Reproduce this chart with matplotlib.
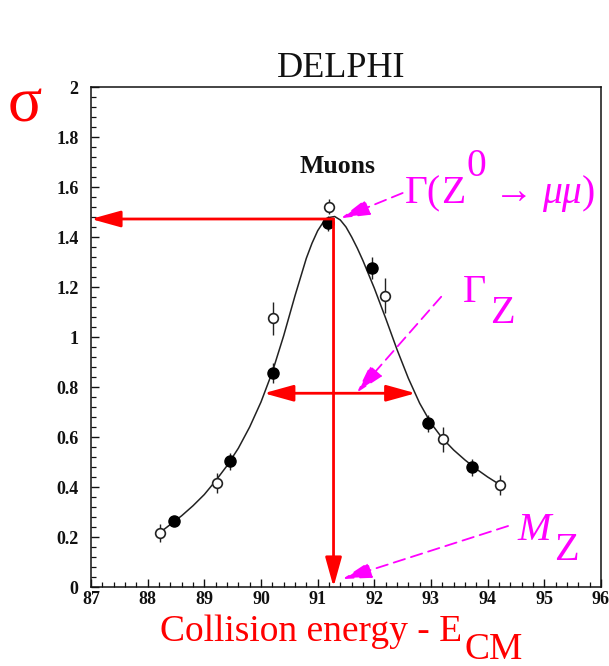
import matplotlib
matplotlib.use("Agg")
import matplotlib.pyplot as plt
from matplotlib.ticker import MultipleLocator

# ---- data -------------------------------------------------------------
# filled circles
filled_x = [88.47, 89.46, 90.21, 91.18, 91.95, 92.95, 93.72]
filled_y = [0.265, 0.503, 0.857, 1.455, 1.277, 0.655, 0.479]
filled_err = [0.02, 0.035, 0.04, 0.03, 0.045, 0.035, 0.035]

# open circles
open_x = [88.22, 89.22, 90.21, 91.20, 92.19, 93.21, 94.21]
open_y = [0.217, 0.417, 1.075, 1.521, 1.165, 0.591, 0.408]
open_err = [0.035, 0.04, 0.065, 0.03, 0.07, 0.05, 0.04]

# fitted line shape
fit_x = [88.2, 88.4, 88.6, 88.8, 89.0, 89.2, 89.4, 89.6, 89.8, 90.0, 90.2,
         90.4, 90.6, 90.8, 90.9, 91.0, 91.1, 91.2, 91.3, 91.4, 91.5, 91.6,
         91.7, 91.8, 92.0, 92.2, 92.4, 92.6, 92.8, 93.0, 93.2, 93.4, 93.6,
         93.8, 94.0, 94.21]
fit_y = [0.215, 0.250, 0.285, 0.325, 0.370, 0.425, 0.485, 0.555, 0.640, 0.740,
         0.860, 1.005, 1.165, 1.315, 1.375, 1.425, 1.460, 1.478, 1.482, 1.468,
         1.440, 1.400, 1.355, 1.305, 1.195, 1.075, 0.950, 0.835, 0.735, 0.655,
         0.595, 0.548, 0.508, 0.472, 0.440, 0.410]

# resonance markers
m_z = 91.28
peak_sigma = 1.472
half_y = 0.775
half_lo, half_hi = 90.05, 92.73

x_ticks = [87, 88, 89, 90, 91, 92, 93, 94, 95, 96]
y_ticks = [0, 0.2, 0.4, 0.6, 0.8, 1.0, 1.2, 1.4, 1.6, 1.8, 2.0]
y_tick_labels = ["0", "0.2", "0.4", "0.6", "0.8", "1", "1.2", "1.4", "1.6", "1.8", "2"]

# ---- figure -----------------------------------------------------------
W, H = 609, 666
fig = plt.figure(figsize=(W / 100, H / 100), dpi=100)
fig.patch.set_facecolor("white")
SERIF = ["Liberation Serif", "DejaVu Serif"]
RED = "#ff0000"
MAG = "#ff00ff"

ax = fig.add_axes([91 / W, 1 - 587 / H, 510 / W, 500 / H])
ax.set_xlim(87, 96)
ax.set_ylim(0, 2)
for sp in ax.spines.values():
    sp.set_linewidth(1.1)
    sp.set_color("#111111")

ax.set_xticks(x_ticks)
ax.set_xticklabels([str(v) for v in x_ticks])
ax.set_yticks(y_ticks)
ax.set_yticklabels(y_tick_labels)
ax.xaxis.set_minor_locator(MultipleLocator(0.2))
ax.yaxis.set_minor_locator(MultipleLocator(0.04))
ax.tick_params(which="both", direction="in", top=False, right=False, color="#111111")
ax.tick_params(which="major", length=6, width=1.0)
ax.tick_params(which="minor", length=3.5, width=0.9)
ax.tick_params(axis="x", which="major", pad=3)
ax.tick_params(axis="y", which="major", pad=9)
for lab in ax.get_xticklabels() + ax.get_yticklabels():
    lab.set_fontfamily(SERIF)
    lab.set_fontsize(13)
    lab.set_fontweight("bold")
    lab.set_color("#111111")

# fit curve
ax.plot(fit_x, fit_y, color="#222222", lw=1.1, zorder=3)

# measurements
ax.errorbar(filled_x, filled_y, yerr=filled_err, fmt="o", ms=8, mfc="black",
            mec="black", ecolor="#222222", elinewidth=1.0, capsize=0, zorder=4)
ax.errorbar(open_x, open_y, yerr=open_err, fmt="o", ms=7, mfc="white",
            mec="#222222", mew=1.2, ecolor="#222222", elinewidth=1.0, capsize=0,
            zorder=4)

# red guide arrows
red_head = "-|>,head_length=1.8,head_width=0.5"
ax.annotate("", xy=(87.0, peak_sigma), xytext=(m_z, peak_sigma),
            arrowprops=dict(arrowstyle=red_head, color=RED, lw=2,
                            shrinkA=0, shrinkB=0), annotation_clip=False, zorder=6)
ax.annotate("", xy=(m_z, 0.0), xytext=(m_z, peak_sigma),
            arrowprops=dict(arrowstyle=red_head, color=RED, lw=2,
                            shrinkA=0, shrinkB=0), annotation_clip=False, zorder=6)
ax.annotate("", xy=(half_hi, half_y), xytext=(half_lo, half_y),
            arrowprops=dict(arrowstyle="<|-|>,head_length=1.8,head_width=0.5",
                            color=RED, lw=2, shrinkA=0, shrinkB=0), zorder=6)

# magenta dashed pointers
mag_head = "-|>,head_length=1.8,head_width=0.5"
pointers = [((92.50, 1.576), (91.41, 1.475)),
            ((93.18, 1.161), (91.69, 0.777)),
            ((94.36, 0.244), (91.44, 0.032))]
for tail, tip in pointers:
    ax.annotate("", xy=tip, xytext=tail,
                arrowprops=dict(arrowstyle=mag_head, color=MAG, lw=1.3,
                                linestyle=(0, (6.5, 3.5)), shrinkA=0, shrinkB=0),
                annotation_clip=False, zorder=7)

# ---- text -------------------------------------------------------------
renderer = fig.canvas.get_renderer()


def text_run(x_px, base_px, pieces, color, size):
    """Lay out text pieces left to right; each piece may be shifted vertically."""
    x = x_px
    for s, dy, style, gap in pieces:
        x += gap
        t = fig.text(x / W, 1 - (base_px + dy) / H, s, ha="left", va="baseline",
                     color=color, fontsize=size, family=SERIF, style=style)
        x += t.get_window_extent(renderer).width


fig.text(341 / W, 1 - 77 / H, "DELPHI", ha="center", va="baseline",
         fontsize=26, family=SERIF, color="#111111")
fig.text(300 / W, 1 - 173 / H, "Muons", ha="left", va="baseline",
         fontsize=18.5, family=SERIF, weight="bold", color="#111111")
fig.text(8 / W, 1 - 122 / H, "σ", ha="left", va="baseline",
         fontsize=46, family=SERIF, color=RED)

text_run(405, 203, [("Γ(", 0, "normal", 0), ("Z", 0, "normal", 0),
                    ("0", -27, "normal", 1), ("→", 0, "normal", 8),
                    ("μμ", 0, "italic", 8), (")", 0, "normal", 0)], MAG, 28.5)
text_run(463, 302, [("Γ", 0, "normal", 0), ("Z", 21, "normal", 4)], MAG, 29)
text_run(517, 540, [("M", 0, "italic", 0), ("Z", 20, "normal", 4)], MAG, 29)
text_run(160, 641, [("Collision energy - E", 0, "normal", 0),
                    ("CM", 18, "normal", 2)], RED, 27)

fig.savefig("out.png", dpi=100)
